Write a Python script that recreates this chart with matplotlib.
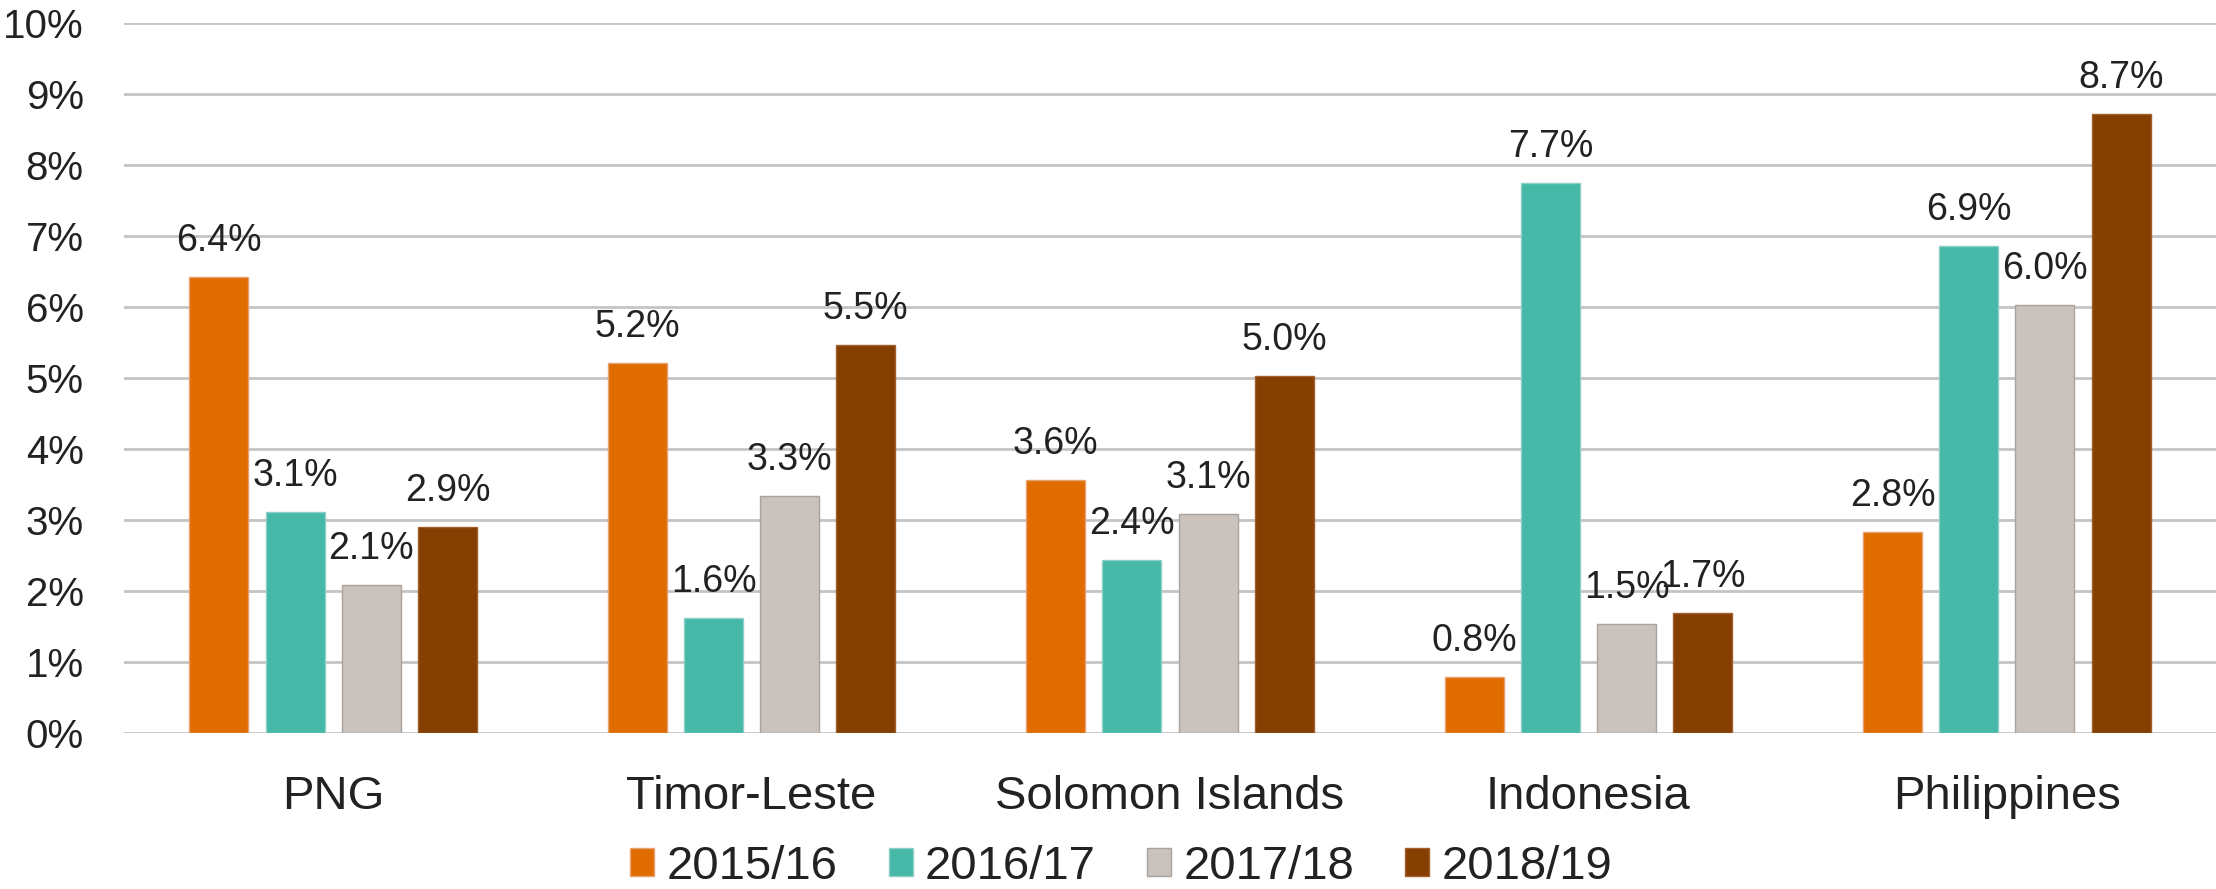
import numpy as np
import matplotlib
matplotlib.use('Agg')
import matplotlib.pyplot as plt
from matplotlib.patches import Patch

plt.rcParams['font.family'] = ['Liberation Sans', 'DejaVu Sans']

countries = ['PNG', 'Timor-Leste', 'Solomon Islands', 'Indonesia', 'Philippines']
years = ['2015/16', '2016/17', '2017/18', '2018/19']
v2015 = [6.42, 5.21, 3.57, 0.80, 2.83]
v2016 = [3.11, 1.63, 2.44, 7.74, 6.86]
v2017 = [2.09, 3.34, 3.09, 1.54, 6.02]
v2018 = [2.91, 5.46, 5.03, 1.70, 8.72]
yticks = [0, 1, 2, 3, 4, 5, 6, 7, 8, 9, 10]

colors = ['#e06c00', '#46b8a8', '#cac2bc', '#853f00']
edges = ['#e8a070', '#8fd0c6', '#aaa29c', '#a06030']
txt = '#222222'

fig = plt.figure(figsize=(22.16, 8.89), dpi=100)
ax = fig.add_axes([124/2216, 0.175, 1 - 124/2216, 0.7996])

x = np.arange(len(countries))
pitch = 0.182
width = 0.141
series = [v2015, v2016, v2017, v2018]
for i, vals in enumerate(series):
    pos = x + (i - 1.5) * pitch
    bars = ax.bar(pos, vals, width, color=colors[i], edgecolor=edges[i], linewidth=1, zorder=3)
    for b, v in zip(bars, vals):
        ax.annotate(f'{v:.1f}%', (b.get_x() + b.get_width()/2, v),
                    xytext=(0, 13), textcoords='offset points',
                    ha='center', va='bottom', fontsize=27, color=txt)

ax.set_xlim(-0.5, 4.5)
ax.set_ylim(0, 10)
ax.set_yticks(yticks)
ax.set_yticklabels([f'{t}%' for t in yticks])
ax.set_xticks(x)
ax.set_xticklabels(countries)
ax.tick_params(axis='y', length=0, pad=29, labelsize=29, labelcolor=txt)
ax.tick_params(axis='x', length=0, pad=30, labelsize=34, labelcolor=txt)
ax.grid(axis='y', color='#c4c4c4', linewidth=2, zorder=0)
ax.set_axisbelow(True)
for s in ax.spines.values():
    s.set_visible(False)

handles = [Patch(facecolor=c, edgecolor=e, linewidth=1) for c, e in zip(colors, edges)]
fig.legend(handles, years, loc='center', bbox_to_anchor=(0.506, 0.025), ncol=4,
           frameon=False, fontsize=34, handlelength=0.51, handleheight=0.53,
           handletextpad=0.26, columnspacing=1.08, labelcolor=txt)

fig.savefig('out.png', dpi=100)
